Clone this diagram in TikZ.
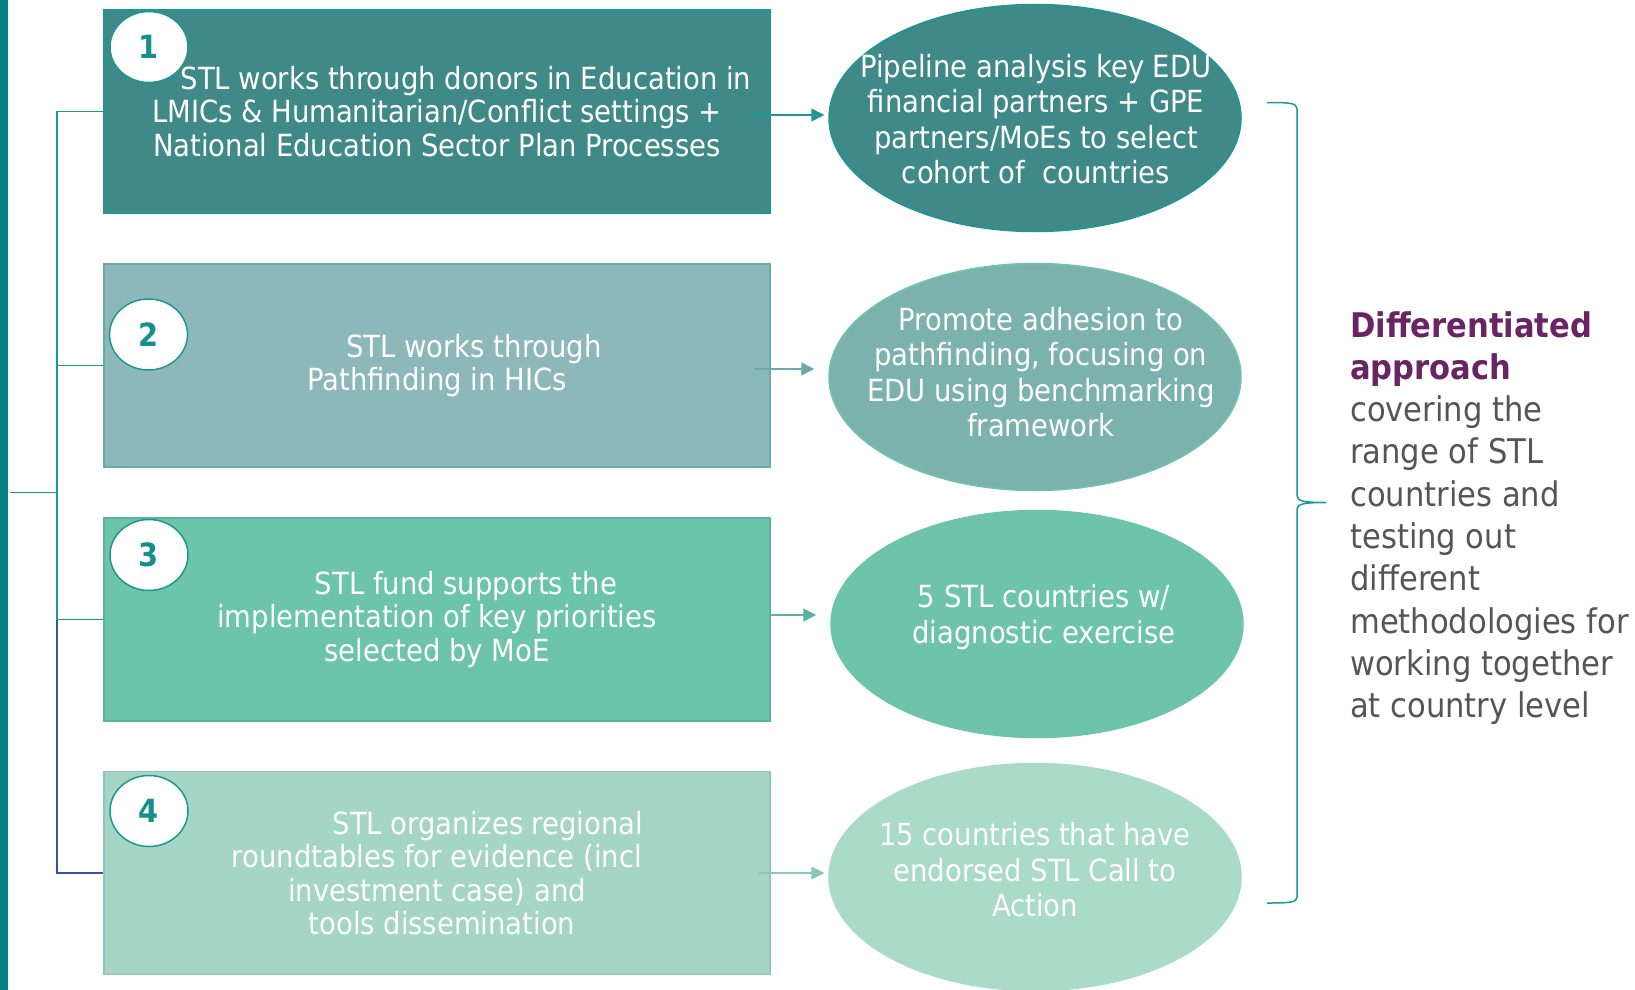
\documentclass[tikz,border=0pt]{standalone}
\usepackage{fontspec}
\setmainfont{DejaVu Sans Condensed}
\usetikzlibrary{arrows.meta, positioning, calc, shapes.geometric}

\definecolor{barteal}{RGB}{0,128,128}
\definecolor{treeline}{RGB}{24,152,150}
\definecolor{treeblue}{RGB}{52,84,160}
\definecolor{fillA}{RGB}{63,138,136}
\definecolor{fillB}{RGB}{141,184,185}
\definecolor{fillC}{RGB}{108,197,168}
\definecolor{fillD}{RGB}{165,214,197}
\definecolor{ovalB}{RGB}{124,178,174}
\definecolor{ovalC}{RGB}{110,196,170}
\definecolor{ovalD}{RGB}{170,218,200}
\definecolor{edgeA}{RGB}{30,150,145}
\definecolor{edgeB}{RGB}{105,170,170}
\definecolor{edgeC}{RGB}{92,178,160}
\definecolor{edgeD}{RGB}{140,198,186}
\definecolor{numteal}{RGB}{22,142,140}
\definecolor{headpurple}{RGB}{106,36,100}
\definecolor{sidegray}{RGB}{85,85,85}

\newcommand\bxfont{\fontsize{30.5}{33.5}\selectfont}
\newcommand\ovfont{\fontsize{30.5}{35.5}\selectfont}
\newcommand\nbfont{\fontsize{32}{36}\selectfont\bfseries}
\newcommand\sdfont{\fontsize{34}{42.3}\selectfont}

\tikzset{
    stepbox/.style={rectangle, line width=1.5pt, minimum width=666pt, minimum height=203pt,
        inner sep=0pt, align=center, text=white, font=\bxfont},
    boxA/.style={stepbox, fill=fillA, draw=edgeA},
    boxB/.style={stepbox, fill=fillB, draw=edgeB},
    boxC/.style={stepbox, fill=fillC, draw=edgeC},
    boxD/.style={stepbox, fill=fillD, draw=edgeD},
    numc/.style={ellipse, draw=edgeA, line width=1.5pt, fill=white, minimum width=78pt,
        minimum height=71pt, inner sep=0pt, text=numteal, font=\nbfont},
    oval/.style={ellipse, line width=1.5pt, minimum width=412pt, minimum height=227pt, inner sep=0pt},
    ovaltxt/.style={align=center, text=white, font=\ovfont, inner sep=0pt},
    arr/.style={-{Triangle[length=13pt,width=13pt]}, line width=1.5pt},
    tree/.style={line width=1.6pt, draw=treeline},
}

\begin{document}
\begin{tikzpicture}[x=1pt, y=-1pt]
    \useasboundingbox (0,0) rectangle (1635,990);
    \fill[barteal] (0,0) rectangle (8,990);

    % left column
    \node[boxA] (b1) at (437,111.5) {\hspace*{58pt}STL works through donors in Education in\\
        LMICs \& Humanitarian/Conflict settings +\\ National Education Sector Plan Processes};
    \node[boxB] (b2) at (437,365.5) {\hspace*{74pt}STL works through\\ Pathfinding in HICs};
    \node[boxC] (b3) at (437,619.5) {\hspace*{58pt}STL fund supports the\\
        implementation of key priorities\\ selected by MoE};
    \node[boxD] (b4) at (437,873) {\hspace*{102pt}STL organizes regional\\
        roundtables for evidence (incl\\ investment case) and\\ \hspace*{10pt}tools dissemination};

    \node[numc] (n1) at (149,47) {1};
    \node[numc] (n2) at (148.5,334.5) {2};
    \node[numc] (n3) at (149,555) {3};
    \node[numc] (n4) at (149,811) {4};

    % right column
    \node[oval, fill=fillA, draw=edgeA] (e1) at (1035,118) {};
    \node[oval, fill=ovalB, draw=ovalC] (e2) at (1035,377) {};
    \node[oval, fill=ovalC, draw=ovalC] (e3) at (1037,624) {};
    \node[oval, fill=ovalD, draw=ovalD] (e4) at (1035,877) {};

    \node[ovaltxt] (t1) at (1036,119) {Pipeline analysis key EDU\\ financial partners + GPE\\
        partners/MoEs to select\\ cohort of \ countries};
    \node[ovaltxt] (t2) at (1041,372) {Promote adhesion to\\ pathfinding, focusing on\\
        EDU using benchmarking\\ framework};
    \node[ovaltxt] (t3) at (1044,617) {5 STL countries w/\\ diagnostic exercise};
    \node[ovaltxt] (t4) at (1035,870) {15 countries that have\\ endorsed STL Call to\\ Action};

    % arrows
    \draw[arr, edgeA] ([xshift=-25pt]b1.east |- 0,115) -- ([xshift=-4pt]e1.west |- 0,115);
    \draw[arr, edgeB] ([xshift=-16pt]b2.east |- 0,369) -- ([xshift=-14pt]e2.west |- 0,369);
    \draw[arr, edgeC] (b3.east |- 0,615) -- ([xshift=-14pt]e3.west |- 0,615);
    \draw[arr, edgeD] ([xshift=-12pt]b4.east) -- ([xshift=-4pt]e4.west |- b4.east);

    % tree
    \coordinate (root) at (10,492.5);
    \coordinate (spine) at (57,492.5);
    \draw[tree] (root) -- (spine);
    \draw[tree] (b1.west) -| (spine) |- (b3.west);
    \draw[tree] (b2.west) -- (b2.west -| spine);
    \draw[tree, draw=treeblue] (b3.west -| spine) |- (b4.west);

    % brace and note
    \coordinate (brtop) at (1267,102.5);
    \coordinate (brtip) at (1326,502.5);
    \coordinate (brbot) at (1267,903);
    \draw[treeline, line width=1.5pt] (brtop) .. controls (1290,102.5) and (1297,103) .. (1297,109)
        -- (1297,496) .. controls (1297,501.5) and (1306,502.5) .. (brtip)
        .. controls (1306,502.5) and (1297,503.5) .. (1297,509)
        -- (1297,897) .. controls (1297,902.5) and (1290,903) .. (brbot);
    \node[anchor=north west, inner sep=0pt, align=left, font=\sdfont, text=sidegray] (note) at (1350,311)
        {\textcolor{headpurple}{\bfseries Differentiated}\\ \textcolor{headpurple}{\bfseries approach}\\
        covering the\\ range of STL\\ countries and\\ testing out\\ different\\ methodologies for\\
        working together\\ at country level};
\end{tikzpicture}
\end{document}
